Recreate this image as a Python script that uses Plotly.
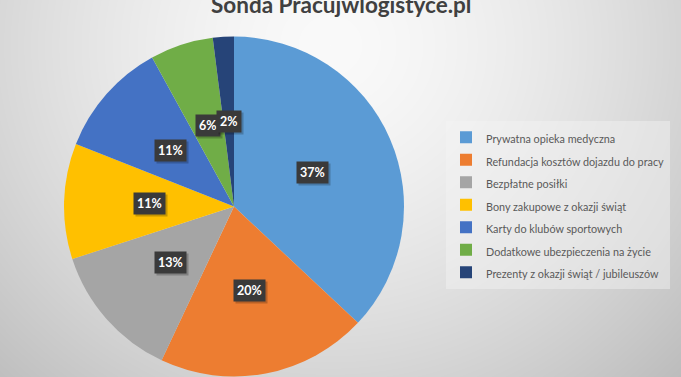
import math
import base64
import struct
import zlib
import numpy as np
import plotly.graph_objects as go

categories = [
    "Prywatna opieka medyczna",
    "Refundacja kosztów dojazdu do pracy",
    "Bezpłatne posiłki",
    "Bony zakupowe z okazji świąt",
    "Karty do klubów sportowych",
    "Dodatkowe ubezpieczenia na życie",
    "Prezenty z okazji świąt / jubileuszów",
]
values = [37, 20, 13, 11, 11, 6, 2]
colors = ["#5B9BD5", "#ED7D31", "#A5A5A5", "#FFC000", "#4472C4", "#70AD47", "#264478"]
title_text = "Sonda Pracujwlogistyce.pl"

W, H = 681, 377
dom_x = [64 / W, 404 / W]
dom_y = [0.0, (H - 36) / H]


# ---- background radial gradient as an inline PNG (decoration only) ----
def gradient_png(w, h):
    yy, xx = np.mgrid[0:h, 0:w].astype(float)
    d = np.sqrt((xx - 330) ** 2 + ((yy - 45) * 1.05) ** 2)
    g = 250 - 0.0056 * d ** 1.5
    g = np.clip(g, 185, 250).astype(np.uint8)
    raw = b"".join(b"\x00" + g[r].tobytes() for r in range(h))

    def chunk(tag, data):
        c = struct.pack(">I", len(data)) + tag + data
        return c + struct.pack(">I", zlib.crc32(tag + data) & 0xFFFFFFFF)

    png = b"\x89PNG\r\n\x1a\n"
    png += chunk(b"IHDR", struct.pack(">IIBBBBB", w, h, 8, 0, 0, 0, 0))
    png += chunk(b"IDAT", zlib.compress(raw, 9))
    png += chunk(b"IEND", b"")
    return "data:image/png;base64," + base64.b64encode(png).decode()


legend_labels = [f'<span style="font-size:10.8px">{c}</span>' for c in categories]

fig = go.Figure()
fig.add_trace(go.Pie(
    labels=legend_labels,
    values=values,
    sort=False,
    direction="clockwise",
    rotation=0,
    marker=dict(colors=colors, line=dict(width=0)),
    textinfo="none",
    hoverinfo="label+percent",
    domain=dict(x=dom_x, y=dom_y),
))

# percentage labels in dark boxes, placed at half radius on each slice's mid-angle
annotations = []
total = sum(values)
cum = 0
for v in values:
    mid = (cum + v / 2) / total * 2 * math.pi
    cum += v
    x = 0.5 * math.sin(mid)
    y = 0.5 * math.cos(mid)
    pct = f"<b>{round(v / total * 100)}%</b>"
    annotations.append(dict(
        x=x, y=y, xref="x", yref="y", text=pct, showarrow=False,
        xshift=2, yshift=-2,
        font=dict(family="Lato, Open Sans, sans-serif", size=12.5, color="rgba(0,0,0,0)"),
        bgcolor="rgba(0,0,0,0.22)", borderpad=3,
    ))
    annotations.append(dict(
        x=x, y=y, xref="x", yref="y", text=pct, showarrow=False,
        font=dict(family="Lato, Open Sans, sans-serif", size=12.5, color="white"),
        bgcolor="#3a3a3a", borderpad=3,
    ))

annotations.append(dict(
    x=0.5, y=1 - 13 / H, xref="paper", yref="paper", xanchor="center", yanchor="bottom",
    text=f"<b>{title_text}</b>", showarrow=False, yshift=-7,
    font=dict(family="Lato, Open Sans, sans-serif", size=22.5, color="#404040"),
))

fig.update_layout(
    width=W, height=H,
    margin=dict(l=0, r=0, t=0, b=0),
    paper_bgcolor="#e0e0e0",
    plot_bgcolor="rgba(0,0,0,0)",
    images=[dict(
        source=gradient_png(W, H), xref="paper", yref="paper",
        x=0, y=1, sizex=1, sizey=1, xanchor="left", yanchor="top",
        sizing="stretch", layer="below",
    )],
    showlegend=True,
    legend=dict(
        x=446 / W, y=1 - 121 / H, xanchor="left", yanchor="top",
        bgcolor="rgba(245,245,245,0.45)",
        font=dict(family="Lato, sans-serif", size=15, color="#595959"),
        itemwidth=30,
        tracegroupgap=0,
    ),
    xaxis=dict(domain=dom_x, range=[-1, 1], visible=False, fixedrange=True),
    yaxis=dict(domain=dom_y, range=[-1, 1], visible=False, fixedrange=True),
    annotations=annotations,
)

fig.write_html(
    "out.html",
    config={"displayModeBar": False},
    post_script="document.body.style.margin='0';document.body.style.overflow='hidden';",
)
